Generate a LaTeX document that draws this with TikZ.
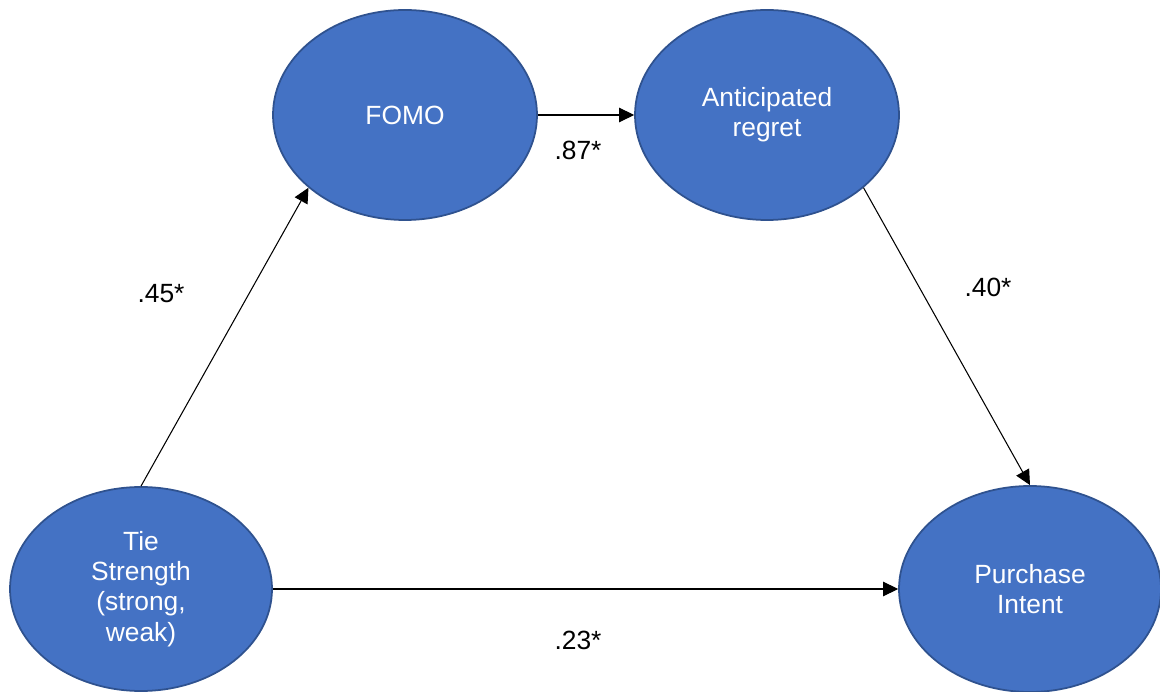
\documentclass[tikz,border=0pt]{standalone}
\usepackage{fontspec}
\setmainfont{Liberation Sans}
\usetikzlibrary{arrows.meta,shapes.geometric}
\definecolor{nodeblue}{HTML}{4472C4}
\definecolor{edgeblue}{HTML}{2F528F}

\begin{document}
\begin{tikzpicture}[
    var/.style={draw=edgeblue, line width=1pt, fill=nodeblue, ellipse,
        inner sep=0pt, text=white, align=center,
        font=\fontsize{15}{17.2}\selectfont},
    path/.style={-{Triangle[length=0.3cm,width=0.29cm]}, line width=0.6pt},
    coef/.style={font=\fontsize{15}{17.2}\selectfont}
]
        \useasboundingbox (0,0) rectangle (23.2,13.82);

        \node[var, minimum width=5.24cm, minimum height=4.08cm] (tie) at (2.82,2.04) {Tie\\Strength\\(strong,\\weak)};
        \node[var, minimum width=5.28cm, minimum height=4.2cm] (fomo) at (8.10,11.52) {FOMO};
        \node[var, minimum width=5.28cm, minimum height=4.2cm] (regret) at (15.34,11.52) {Anticipated\\regret};
        \node[var, minimum width=5.24cm, minimum height=4.12cm] (intent) at (20.6,2.04) {Purchase\\Intent};

        \draw[path] (tie.north) -- (fomo.217.8);
        \draw[path] (fomo.east) -- (regret.west);
        \draw[path] (regret.-37) -- (intent.north);
        \draw[path] (tie.east) -- (intent.west);

        \node[coef] (c45) at (3.22,7.94) {.45*};
        \node[coef] (c87) at (11.56,10.82) {.87*};
        \node[coef] (c40) at (19.76,8.08) {.40*};
        \node[coef] (c23) at (11.56,1.02) {.23*};
    \end{tikzpicture}
\end{document}
